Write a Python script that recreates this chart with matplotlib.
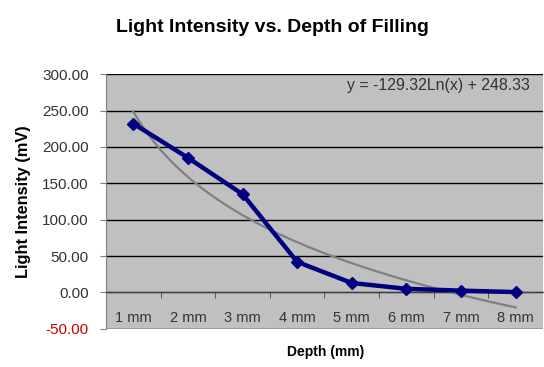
import numpy as np
import matplotlib.pyplot as plt
from matplotlib.ticker import FixedLocator

plt.rcParams['font.family'] = ['Liberation Sans', 'DejaVu Sans']

depth = [1, 2, 3, 4, 5, 6, 7, 8]
depth_labels = ['1 mm', '2 mm', '3 mm', '4 mm', '5 mm', '6 mm', '7 mm', '8 mm']
intensity = [232, 185, 135, 42, 13, 5, 2.5, 0.5]
fit_a = -129.32
fit_b = 248.33

fig = plt.figure(figsize=(5.44, 3.67), dpi=100)
ax = fig.add_axes([0.195, 0.104, 0.803, 0.694])
ax.set_facecolor('#c0c0c0')

# log trend line
xs = np.linspace(1, 8, 200)
ax.plot(xs, fit_a * np.log(xs) + fit_b, color='#808080', lw=1.6, zorder=3)
ax.plot(depth, intensity, color='#000080', lw=3.2, marker='D', ms=6, zorder=4)

ax.set_xlim(0.5, 8.5)
ax.set_ylim(-50, 300)
ax.set_yticks(np.arange(-50, 301, 50))
ax.set_yticklabels(['%.2f' % v for v in np.arange(-50, 301, 50)])
for lab in ax.get_yticklabels():
    lab.set_color('#333333')
ax.get_yticklabels()[0].set_color('#cc0000')
ax.tick_params(axis='y', labelsize=11, length=4.5, color='#808080', pad=8)
ax.yaxis.grid(True, color='black', lw=1)
ax.set_axisbelow(True)

ax.spines['bottom'].set_position(('data', 0))
ax.spines['bottom'].set_color('#404040')
ax.spines['top'].set_visible(False)
ax.spines['right'].set_visible(False)
ax.spines['left'].set_color('#808080')
ax.set_xticks(depth)
ax.set_xticklabels(depth_labels, color='#333333')
ax.tick_params(axis='x', labelsize=10.5, length=0, pad=13)
ax.xaxis.set_minor_locator(FixedLocator(np.arange(1.5, 8.5, 1)))
ax.tick_params(axis='x', which='minor', length=4, direction='out', color='#404040')

ax.text(0.97, 0.955, 'y = -129.32Ln(x) + 248.33', transform=ax.transAxes,
        ha='right', va='center', fontsize=11.4, color='#333333')

fig.text(0.5, 0.925, 'Light Intensity vs. Depth of Filling', ha='center', va='center',
         fontsize=14, fontweight='bold')
fig.text(0.598, 0.04, 'Depth (mm)', ha='center', va='center', fontsize=10, fontweight='bold')
fig.text(0.043, 0.45, 'Light Intensity (mV)', ha='center', va='center', rotation=90,
         fontsize=11.8, fontweight='bold')

fig.savefig('out.png', dpi=100)
